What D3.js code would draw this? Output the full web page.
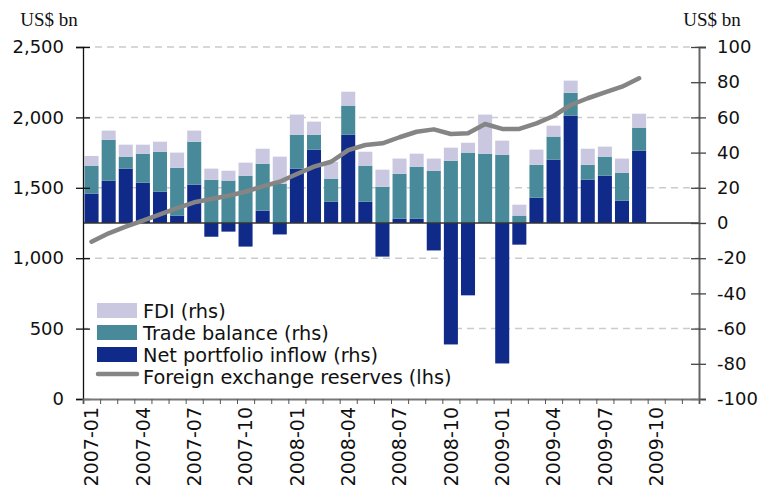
<!DOCTYPE html>
<html>
<head>
<meta charset="utf-8">
<title>Reserves and capital flows</title>
<script src="https://cdn.jsdelivr.net/npm/d3@7/dist/d3.min.js"></script>
<style>
    body { margin: 0; background: #fff; }
    text { font-family: "DejaVu Sans", sans-serif; fill: #111; }
    .unit { font-family: "Liberation Serif", serif; font-size: 19px; }
</style>
</head>
<body>
<svg id="chart" width="769" height="497"></svg>
<script>
    // months on the x axis (bars run to 2009-09)
    var months = [];
    [2007, 2008, 2009].forEach(function (y) {
        for (var m = 1; m <= 12; m++) months.push(y + "-" + (m < 10 ? "0" : "") + m);
    });
    var labelMonths = months.filter(function (d, i) { return i % 3 === 0; });

    var portfolio = [16.7, 24.1, 30.9, 22.9, 17.8, 4.2, 21.8, -7.8, -4.9, -13.4, 7.0, -6.5,
        30.9, 41.7, 12.1, 50.2, 12.1, -19.1, 2.5, 2.5, -15.6, -69.0, -41.1, 0,
        -79.8, -12.3, 14.4, 36.0, 61.0, 24.6, 26.9, 12.7, 41.1];
    var trade = [15.9, 23.2, 6.8, 16.5, 22.7, 27.2, 24.4, 24.6, 24.1, 26.9, 26.7, 22.2,
        19.3, 8.5, 13.1, 16.5, 20.5, 20.6, 25.5, 29.5, 29.7, 35.4, 40.0, 39.4,
        38.8, 4.2, 18.7, 13.1, 13.0, 8.5, 10.8, 15.9, 13.1];
    var fdi = [5.5, 5.2, 6.8, 5.1, 5.7, 8.6, 6.3, 6.3, 5.6, 7.4, 8.5, 15.5,
        11.4, 7.4, 9.6, 7.9, 7.9, 9.7, 8.6, 7.4, 6.9, 7.4, 5.6, 22.2,
        8.0, 6.2, 8.6, 6.2, 6.9, 9.1, 5.7, 8.0, 7.9];
    var reserves = [1117, 1177, 1224, 1267, 1312, 1355, 1397, 1420, 1444, 1472, 1510, 1543,
        1598, 1650, 1685, 1768, 1804, 1816, 1859, 1898, 1915, 1882, 1887, 1953,
        1918, 1918, 1958, 2010, 2088, 2136, 2178, 2218, 2278];

    var leftTicks = [0, 500, 1000, 1500, 2000, 2500];
    var rightTicks = d3.range(-100, 101, 20);
    var gridTicks = [500, 1000, 1500, 2000, 2500];

    var keys = ["portfolio", "trade", "fdi"];
    var colors = {portfolio: "#0f2a88", trade: "#488a9a", fdi: "#c9c8e0"};
    var legendItems = [
        {name: "FDI (rhs)", key: "fdi"},
        {name: "Trade balance (rhs)", key: "trade"},
        {name: "Net portfolio inflow (rhs)", key: "portfolio"},
        {name: "Foreign exchange reserves (lhs)", key: "line"}
    ];

    var rows = portfolio.map(function (p, i) {
        return {month: months[i], portfolio: p, trade: trade[i], fdi: fdi[i], reserves: reserves[i]};
    });

    var plotL = 83, plotR = 699, plotT = 47, plotB = 399;
    var svg = d3.select("#chart");

    var x = d3.scaleBand().domain(months).range([plotL, plotR])
        .paddingInner(0.18).paddingOuter(0.09);
    var xEdge = d3.scaleLinear().domain([0, months.length]).range([plotL, plotR]);
    var yL = d3.scaleLinear().domain([0, 2500]).range([plotB, plotT]);
    var yR = d3.scaleLinear().domain([-100, 100]).range([plotB, plotT]);

    // grid
    svg.append("g").selectAll("line").data(gridTicks).join("line")
        .attr("x1", plotL).attr("x2", plotR)
        .attr("y1", function (d) { return yL(d); }).attr("y2", function (d) { return yL(d); })
        .attr("stroke", "#cccccc").attr("stroke-width", 1.5).attr("stroke-dasharray", "7,5");

    // legend background
    svg.append("rect").attr("x", 88).attr("y", 296).attr("width", 364).attr("height", 92)
        .attr("fill", "#fff");

    // bars
    var series = d3.stack().keys(keys).offset(d3.stackOffsetDiverging)(rows);
    svg.append("g").selectAll("g").data(series).join("g")
        .attr("fill", function (s) { return colors[s.key]; })
        .selectAll("rect").data(function (s) { return s; }).join("rect")
        .attr("x", function (d) { return x(d.data.month); })
        .attr("width", x.bandwidth())
        .attr("y", function (d) { return yR(Math.max(d[0], d[1])); })
        .attr("height", function (d) { return Math.abs(yR(d[0]) - yR(d[1])); });

    // zero line
    svg.append("line").attr("x1", plotL).attr("x2", plotR)
        .attr("y1", yR(0)).attr("y2", yR(0))
        .attr("stroke", "#333").attr("stroke-width", 1.5);

    // reserves line
    svg.append("path").datum(rows)
        .attr("fill", "none").attr("stroke", "#858585").attr("stroke-width", 4.5)
        .attr("stroke-linejoin", "round").attr("stroke-linecap", "round")
        .attr("d", d3.line()
            .x(function (d) { return x(d.month) + x.bandwidth() / 2; })
            .y(function (d) { return yL(d.reserves); }));

    // left axis
    var gL = svg.append("g").attr("transform", "translate(" + plotL + ",0)")
        .call(d3.axisLeft(yL).tickValues(leftTicks).tickSize(7).tickPadding(12)
            .tickFormat(d3.format(",")));
    gL.select(".domain").attr("stroke", "#111").attr("stroke-width", 1.3);
    gL.selectAll(".tick line").attr("x1", 7).attr("stroke", "#111").attr("stroke-width", 1.3);
    gL.selectAll("text").style("font-size", "18px").style("font-family", "DejaVu Sans");

    // right axis (plain hyphen for negatives, as in the source)
    var gR = svg.append("g").attr("transform", "translate(" + plotR + ",0)")
        .call(d3.axisRight(yR).tickValues(rightTicks).tickSize(7).tickPadding(11)
            .tickFormat(function (d) { return String(d); }));
    gR.select(".domain").attr("stroke", "#666").attr("stroke-width", 2);
    gR.selectAll(".tick line").attr("x1", -8).attr("stroke", "#444").attr("stroke-width", 1.3);
    gR.selectAll("text").style("font-size", "18px").style("font-family", "DejaVu Sans");

    // bottom axis with a tick per month
    var gB = svg.append("g").attr("transform", "translate(0," + plotB + ")")
        .call(d3.axisBottom(xEdge).tickValues(d3.range(months.length + 1)).tickSize(5)
            .tickFormat(""));
    gB.select(".domain").attr("stroke", "#777").attr("stroke-width", 2);
    gB.selectAll(".tick line").attr("stroke", "#555");

    svg.append("g").selectAll("text").data(labelMonths).join("text")
        .attr("transform", function (d) {
            return "translate(" + (x(d) + x.bandwidth() / 2) + "," + (plotB + 8) + ") rotate(-90)";
        })
        .attr("dy", "0.35em")
        .attr("text-anchor", "end")
        .style("font-size", "19px")
        .text(function (d) { return d; });

    // units
    svg.append("text").attr("class", "unit").attr("x", 49).attr("y", 26)
        .attr("text-anchor", "middle").text("US$ bn");
    svg.append("text").attr("class", "unit").attr("x", 712).attr("y", 26)
        .attr("text-anchor", "middle").text("US$ bn");

    // legend
    var lg = svg.append("g").selectAll("g").data(legendItems).join("g")
        .attr("transform", function (d, i) { return "translate(97," + (303 + i * 22) + ")"; });
    lg.filter(function (d) { return d.key !== "line"; }).append("rect")
        .attr("width", 40).attr("height", 15)
        .attr("fill", function (d) { return colors[d.key]; });
    lg.filter(function (d) { return d.key === "line"; }).append("line")
        .attr("x1", 1).attr("x2", 40).attr("y1", 5).attr("y2", 5)
        .attr("stroke", "#858585").attr("stroke-width", 4.5).attr("stroke-linecap", "round");
    lg.append("text").attr("x", 46).attr("y", 15)
        .style("font-size", "19.3px")
        .text(function (d) { return d.name; });
</script>
</body>
</html>
